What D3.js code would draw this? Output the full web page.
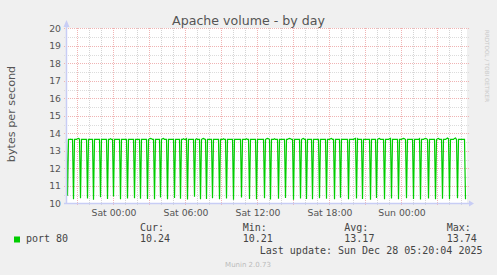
<!DOCTYPE html>
<html><head><meta charset="utf-8">
<script src="https://cdn.jsdelivr.net/npm/d3@7"></script>
<style>body{margin:0;background:#f0f0f0}svg{display:block}</style>
</head><body><svg id="c" width="497" height="275"></svg>
<script>
const title = "Apache volume - by day";
const yLabel = "bytes per second";
const seriesName = "port 80";
const startTime = Date.UTC(2025, 11, 26, 20, 0, 0);
const endTime = Date.UTC(2025, 11, 28, 5, 20, 0);
const stepMinutes = 5;
const yTicks = [10, 11, 12, 13, 14, 15, 16, 17, 18, 19, 20];
const statLabels = ["Cur:", "Min:", "Avg:", "Max:"];
const statValues = ["10.24", "10.21", "13.17", "13.74"];
const lastUpdate = "Last update: Sun Dec 28 05:20:04 2025";
const footer = "Munin 2.0.73";
const sideText = "RRDTOOL / TOBI OETIKER";
// one value per 5-minute sample, oldest first
const values = [
13.66,10.45,13.66,13.66,13.68,13.66,13.66,10.24,13.66,13.66,13.66,13.70,13.72,13.68,10.30,13.66,13.66,13.66,13.66,13.66,
13.66,10.28,13.66,13.66,13.66,13.66,13.66,10.22,13.66,13.66,13.66,13.66,13.66,13.66,10.36,13.66,13.66,13.66,13.66,13.66,
13.66,10.26,13.66,13.66,13.70,13.66,13.66,10.40,13.66,13.66,13.66,13.66,13.66,13.66,10.25,13.66,13.66,13.66,13.66,13.66,
13.66,10.28,13.66,13.66,13.66,13.66,13.66,13.66,10.30,13.66,13.66,13.66,13.66,13.66,10.27,13.66,13.66,13.66,13.66,13.66,
13.66,10.26,13.66,13.70,13.72,13.70,13.66,13.66,10.24,13.66,13.66,13.66,13.66,13.66,10.35,13.66,13.70,13.72,13.66,13.66,
13.66,10.24,13.66,13.66,13.66,13.66,13.66,13.66,10.32,13.66,13.66,13.66,13.66,13.66,10.27,13.66,13.66,13.70,13.66,13.66,
13.70,10.23,13.66,13.66,13.66,13.66,13.66,13.66,10.38,13.66,13.70,13.66,13.66,13.66,10.25,13.66,13.70,13.72,13.68,13.66,
10.26,13.66,13.66,13.66,13.66,13.66,10.30,13.66,13.66,13.66,13.66,13.66,13.66,10.24,13.66,13.66,13.66,13.70,13.66,13.66,
10.28,13.66,13.66,13.66,13.66,13.66,13.66,10.22,13.66,13.66,13.66,13.66,13.66,13.66,13.66,10.34,13.66,13.66,13.66,13.66,
13.70,13.66,13.66,10.26,13.66,13.66,13.66,13.66,13.66,13.66,10.25,13.66,13.66,13.66,13.66,13.66,13.66,13.66,10.30,13.66,
13.70,13.72,13.70,13.66,10.23,13.66,13.66,13.66,13.70,13.66,13.66,13.66,10.27,13.66,13.66,13.66,13.66,13.66,13.66,10.32,
13.66,13.66,13.70,13.72,13.70,13.66,13.66,10.21,13.66,13.66,13.66,13.66,13.66,13.66,10.28,13.66,13.70,13.72,13.66,13.66,
10.26,13.66,13.66,13.66,13.66,13.66,10.24,13.66,13.66,13.66,13.66,13.66,13.66,10.30,13.66,13.66,13.66,13.66,13.66,13.66,
10.27,13.66,13.66,13.66,13.70,13.72,13.66,13.66,10.25,13.66,13.66,13.66,13.66,13.66,10.33,13.66,13.66,13.66,13.66,13.66,
13.66,13.66,10.24,13.66,13.66,13.66,13.66,13.66,13.70,13.72,10.28,13.70,13.66,13.66,13.66,13.66,10.26,13.66,13.66,13.66,
13.66,13.66,13.66,13.66,10.22,13.66,13.66,13.66,13.66,13.66,10.31,13.66,13.70,13.72,13.66,13.66,13.66,13.66,10.25,13.66,
13.66,13.66,13.66,13.70,13.72,10.28,13.66,13.66,13.66,13.66,13.66,13.66,10.24,13.66,13.66,13.66,13.70,13.72,13.70,13.66,
10.30,13.66,13.66,13.66,13.66,13.66,13.66,10.26,13.66,13.66,13.66,13.66,13.66,13.70,10.23,13.66,13.66,13.66,13.70,13.72,
13.70,13.66,10.29,13.66,13.66,13.66,13.66,13.66,13.66,10.25,13.66,13.70,13.72,13.66,13.66,13.66,10.27,13.66,13.66,13.66,
13.70,13.74,13.70,10.24,13.66,13.66,13.66,13.66,13.72,13.74,13.66,10.30,13.66,13.66,13.66,13.66,13.66,13.66,13.66,10.24
];

const svg = d3.select("#c");
const W = 497, H = 275;
svg.append("rect").attr("width", W).attr("height", H).attr("fill", "#f0f0f0");

const x = d3.scaleUtc().domain([new Date(startTime), new Date(endTime)]).range([65.5, 465.5]);
const y = d3.scaleLinear().domain([10, 20]).range([203.5, 28.5]);

// plot background
svg.append("rect").attr("x", 66).attr("y", 28).attr("width", 401).attr("height", 176).attr("fill", "#ffffff");

const g = svg.append("g");
// minor horizontal grid
const minorY = d3.range(yTicks[0] + 0.5, yTicks[yTicks.length - 1], 1);
g.selectAll(".hmin").data(minorY).join("line")
  .attr("x1", 64).attr("x2", 469)
  .attr("y1", d => Math.round(y(d)) + 0.5).attr("y2", d => Math.round(y(d)) + 0.5)
  .attr("stroke", "#dcdcdc").attr("stroke-dasharray", "1,1");
// minor vertical grid (hourly)
const hours = d3.utcHour.range(new Date(startTime + 1), new Date(endTime));
g.selectAll(".vmin").data(hours.filter(d => d.getUTCHours() % 3 !== 0)).join("line")
  .attr("x1", d => Math.round(x(d) - 0.5) + 0.5).attr("x2", d => Math.round(x(d) - 0.5) + 0.5)
  .attr("y1", 28).attr("y2", 205)
  .attr("stroke", "#d4d4d4").attr("stroke-dasharray", "1,1");
// major horizontal grid
g.selectAll(".hmaj").data(yTicks).join("line")
  .attr("x1", 64).attr("x2", 469)
  .attr("y1", d => Math.round(y(d) - 0.5) + 0.5).attr("y2", d => Math.round(y(d) - 0.5) + 0.5)
  .attr("stroke", "#f0b4b4").attr("stroke-dasharray", "1,1");
// major vertical grid (3-hourly)
g.selectAll(".vmaj").data(hours.filter(d => d.getUTCHours() % 3 === 0)).join("line")
  .attr("x1", d => Math.round(x(d) - 0.5) + 0.5).attr("x2", d => Math.round(x(d) - 0.5) + 0.5)
  .attr("y1", 28).attr("y2", 205)
  .attr("stroke", "#f0b4b4").attr("stroke-dasharray", "1,1");

// data line
const pts = values.map((v, i) => ({ t: new Date(startTime + (i + 1) * stepMinutes * 60000), v }));
const line = d3.line().x(d => x(d.t)).y(d => y(d.v));
svg.append("path").datum(pts).attr("d", line)
  .attr("fill", "none").attr("stroke", "#00cc00").attr("stroke-width", 1.2)
  .attr("stroke-linejoin", "miter");

// axes
const axisColor = "#c8cdf5";
svg.append("line").attr("x1", 66.5).attr("x2", 66.5).attr("y1", 204).attr("y2", 24)
  .attr("stroke", axisColor).attr("stroke-width", 1.5);
svg.append("path").attr("d", "M63.5,27L69.5,27L66.5,20Z").attr("fill", axisColor);
svg.append("line").attr("x1", 64).attr("x2", 470).attr("y1", 203.5).attr("y2", 203.5)
  .attr("stroke", axisColor).attr("stroke-width", 1.5);
svg.append("path").attr("d", "M469,200.5L469,206.5L474,203.5Z").attr("fill", axisColor);

// y tick labels
svg.selectAll(".yl").data(yTicks).join("text")
  .attr("x", 61).attr("y", d => y(d) + 3.4)
  .attr("text-anchor", "end").attr("font-family", "DejaVu Sans").attr("font-size", 9.3)
  .attr("fill", "#555").text(d => d);
// x tick labels
const labelTimes = hours.filter(d => d.getUTCHours() % 6 === 0);
const fmt = d3.utcFormat("%a %H:%M");
svg.selectAll(".xl").data(labelTimes).join("text")
  .attr("x", d => x(d) + 0.5).attr("y", 215.7)
  .attr("text-anchor", "middle").attr("font-family", "DejaVu Sans").attr("font-size", 9.3)
  .attr("fill", "#555").text(d => fmt(d));

// title
svg.append("text").attr("x", 248.5).attr("y", 24.5).attr("text-anchor", "middle")
  .attr("font-family", "DejaVu Sans").attr("font-size", 12.6).attr("fill", "#555").text(title);
// y label
svg.append("text").attr("transform", "translate(15,114) rotate(-90)").attr("text-anchor", "middle")
  .attr("font-family", "DejaVu Sans").attr("font-size", 11.2).attr("fill", "#555").text(yLabel);
// side text
svg.append("text").attr("transform", "translate(485,30) rotate(90)").attr("text-anchor", "start")
  .attr("font-family", "DejaVu Sans").attr("font-size", 5.6).attr("fill", "#c8c8c8").text(sideText);

// legend
const mono = "DejaVu Sans Mono";
svg.append("rect").attr("x", 14).attr("y", 236.5).attr("width", 6).attr("height", 6).attr("fill", "#00cc00");
svg.append("text").attr("x", 26).attr("y", 242.3).attr("font-family", mono).attr("font-size", 10)
  .attr("fill", "#444").text(seriesName);
const statX = [140, 242.7, 344.3, 446.7];
statLabels.forEach((s, i) => {
  svg.append("text").attr("x", statX[i]).attr("y", 231).attr("font-family", mono).attr("font-size", 10)
    .attr("fill", "#444").text(s);
  svg.append("text").attr("x", statX[i]).attr("y", 242.3).attr("font-family", mono).attr("font-size", 10)
    .attr("fill", "#444").text(statValues[i]);
});
svg.append("text").attr("x", 482.5).attr("y", 254.3).attr("text-anchor", "end").attr("font-family", mono)
  .attr("font-size", 10).attr("fill", "#444").text(lastUpdate);
svg.append("text").attr("x", 248).attr("y", 267).attr("text-anchor", "middle").attr("font-family", "DejaVu Sans")
  .attr("font-size", 7).attr("fill", "#bbb").text(footer);
</script></body></html>
